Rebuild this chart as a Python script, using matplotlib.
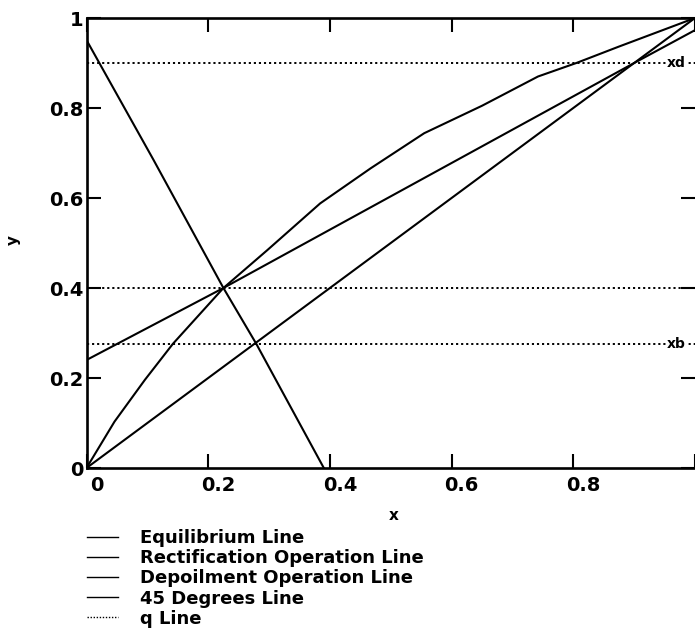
import matplotlib
matplotlib.use("Agg")
import matplotlib.pyplot as plt
from matplotlib.lines import Line2D
import matplotlib.transforms as mtransforms

# Equilibrium curve (x, y)
eq_x = [0.0, 0.046, 0.096, 0.142, 0.225, 0.297, 0.384, 0.467, 0.555, 0.65, 0.742, 0.805, 0.874, 1.0]
eq_y = [0.0, 0.103, 0.196, 0.276, 0.400, 0.484, 0.588, 0.666, 0.744, 0.805, 0.870, 0.900, 0.936, 1.0]

# Rectification operating line
rect_x = [0.0, 0.225, 0.9, 1.0]
rect_y = [0.24, 0.40, 0.90, 0.973]

# Stripping ("depoilment") operating line
strip_x = [0.0, 0.11, 0.225, 0.279, 0.39]
strip_y = [0.951, 0.685, 0.40, 0.276, 0.0]

# 45 degree reference line
diag_x = [0.0, 1.0]
diag_y = [0.0, 1.0]

# Horizontal q lines and their tags
q_levels = [0.9, 0.4, 0.275]
q_tags = ["xd", "", "xb"]

tick_values = [0, 0.2, 0.4, 0.6, 0.8, 1]
tick_labels = ["0", "0.2", "0.4", "0.6", "0.8", "1"]

legend_labels = ["Equilibrium Line", "Rectification Operation Line",
                 "Depoilment Operation Line", "45 Degrees Line", "q Line"]

plt.rcParams['font.family'] = ['DejaVu Sans']

W, H = 695, 629
fig = plt.figure(figsize=(W / 100, H / 100), dpi=100)
ax = fig.add_axes([86.5 / W, (H - 468) / H, 608.5 / W, 450 / H])
ax.set_xlim(0, 1)
ax.set_ylim(0, 1)

lw = 1.5
ax.plot(eq_x, eq_y, color='black', lw=lw)
ax.plot(rect_x, rect_y, color='black', lw=lw)
ax.plot(strip_x, strip_y, color='black', lw=lw)
ax.plot(diag_x, diag_y, color='black', lw=lw)

dots = (0, (1.1, 1.5))
for lvl, tag in zip(q_levels, q_tags):
    ax.axhline(lvl, color='black', lw=1.4, linestyle=dots)
    if tag:
        ax.text(0.969, lvl, tag, ha='center', va='center', fontsize=10,
                fontweight='bold', zorder=5,
                bbox=dict(facecolor='white', edgecolor='none', pad=0.6))

for side in ['left', 'bottom', 'top']:
    ax.spines[side].set_linewidth(1.9)
ax.spines['right'].set_visible(False)

ax.set_xticks(tick_values)
ax.set_xticklabels(tick_labels)
ax.set_yticks(tick_values)
ax.set_yticklabels(tick_labels)
ax.tick_params(direction='in', length=10, width=1.5, top=True, right=True,
               labelsize=14)
ax.tick_params(axis='x', pad=6)
ax.tick_params(axis='y', pad=2.5)
shift = mtransforms.ScaledTranslation(10 / 100, 0, fig.dpi_scale_trans)
for lbl in ax.get_xticklabels():
    lbl.set_fontweight('bold')
    lbl.set_transform(lbl.get_transform() + shift)
for lbl in ax.get_yticklabels():
    lbl.set_fontweight('bold')

ax.set_xlabel('x', fontsize=11, fontweight='bold', va='center')
ax.xaxis.set_label_coords(0.505, (468 - 515) / 450)
ax.set_ylabel('y', fontsize=11, fontweight='bold', va='center')
ax.yaxis.set_label_coords((13 - 86.5) / 608.5, 0.507)

handles = [Line2D([], [], color='black', lw=1.0) for _ in range(4)]
handles.append(Line2D([], [], color='black', lw=1.0, linestyle=(0, (1, 1.2))))
fig.legend(handles, legend_labels, loc='upper left',
           bbox_to_anchor=(87 / W, 1 - 529 / H), bbox_transform=fig.transFigure,
           frameon=False, borderpad=0, borderaxespad=0,
           handlelength=1.72, handletextpad=1.2, labelspacing=0.12,
           prop={'weight': 'bold', 'size': 13})

fig.savefig('out.png', dpi=100)
